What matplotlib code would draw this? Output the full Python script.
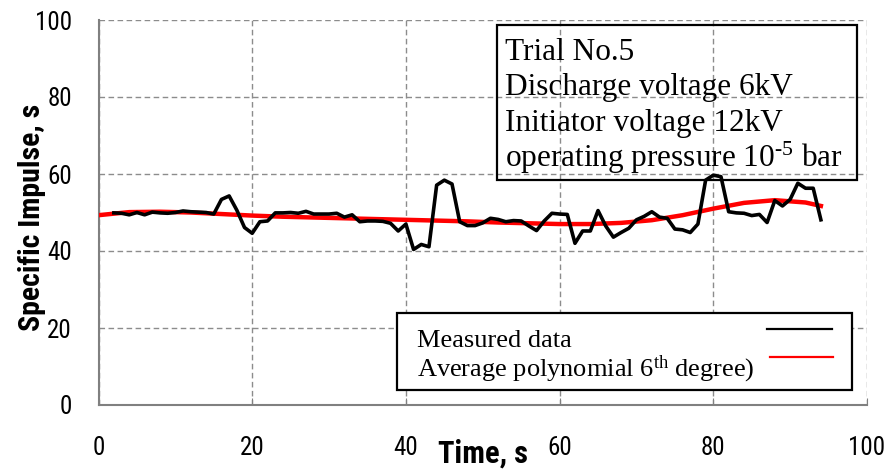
import matplotlib
matplotlib.use("Agg")
import matplotlib.pyplot as plt
from matplotlib import font_manager
from matplotlib.patches import Rectangle

# measured specific impulse, roughly one reading per second
time_s = [2, 3, 4, 5, 6, 7, 8, 9, 10, 11, 12, 13, 14, 15, 16, 17, 18, 19, 20,
          21, 22, 23, 24, 25, 26, 27, 28, 29, 30, 31, 32, 33, 34, 35, 36, 37,
          38, 39, 40, 41, 42, 43, 44, 45, 46, 47, 48, 49, 50, 51, 52, 53, 54,
          55, 56, 57, 58, 59, 60, 61, 62, 63, 64, 65, 66, 67, 68, 69, 70, 71,
          72, 73, 74, 75, 76, 77, 78, 79, 80, 81, 82, 83, 84, 85, 86, 87, 88,
          89, 90, 91, 92, 93, 94]
impulse = [49.9, 49.8, 49.4, 50.0, 49.4, 50.1, 49.9, 49.8, 50.0, 50.4, 50.2,
           50.1, 50.0, 49.6, 53.4, 54.3, 50.6, 46.1, 44.6, 47.6, 47.8, 49.9,
           49.9, 50.0, 49.8, 50.3, 49.6, 49.6, 49.6, 49.8, 48.8, 49.4, 47.6,
           47.8, 47.8, 47.7, 47.2, 45.2, 47.0, 40.4, 41.7, 41.1, 57.1, 58.4,
           57.4, 47.6, 46.6, 46.6, 47.3, 48.5, 48.2, 47.6, 47.9, 47.8, 46.5,
           45.3, 47.8, 49.8, 49.6, 49.5, 42.0, 45.2, 45.2, 50.5, 46.5, 43.6,
           44.8, 45.9, 48.1, 49.0, 50.2, 48.8, 48.5, 45.7, 45.5, 44.8, 47.0,
           58.4, 59.7, 59.3, 50.2, 49.9, 49.8, 49.2, 49.5, 47.4, 53.1, 51.7,
           53.4, 57.6, 56.3, 56.3, 48.1]

# 6th degree trend line
trend_t = [0, 4, 8, 12, 16, 20, 24, 28, 32, 36, 40, 44, 48, 52, 56, 60, 64,
           68, 72, 76, 80, 84, 88, 92, 94]
trend_v = [49.3, 50.1, 50.2, 50.0, 49.6, 49.2, 48.9, 48.7, 48.5, 48.3, 48.1,
           47.9, 47.7, 47.4, 47.2, 47.0, 47.0, 47.3, 48.0, 49.3, 51.0, 52.5,
           53.2, 52.6, 51.7]

x_ticks = [0, 20, 40, 60, 80, 100]
y_ticks = [0, 20, 40, 60, 80, 100]

info_lines = ["Trial No.5", "Discharge voltage 6kV", "Initiator voltage 12kV",
              "operating pressure 10$^{\\text{-}5}$ bar"]
legend_labels = ["Measured data", "Average polynomial 6$^{\\rm th}$ degree)"]

names = {f.name for f in font_manager.fontManager.ttflist}
narrow = "DejaVu Sans"
for n in ["Liberation Sans Narrow", "Roboto Condensed"]:
    if n in names:
        narrow = n
        break
serif = "Liberation Serif"

plt.rcParams["mathtext.fontset"] = "custom"
plt.rcParams["mathtext.rm"] = serif
plt.rcParams["mathtext.it"] = serif + ":italic"

fig = plt.figure(figsize=(8.92, 4.74), dpi=100)
ax = fig.add_axes([98.5 / 892, 1 - 405 / 474, 768.5 / 892, 385 / 474])

ax.plot(trend_t, trend_v, color="red", lw=3.2, zorder=3)
ax.plot(time_s, impulse, color="black", lw=2.6, zorder=4)

ax.set_xlim(0, 100)
ax.set_ylim(0, 100)
ax.set_xticks(x_ticks)
ax.set_yticks(y_ticks)
ax.grid(True, color="#8c8c8c", ls=(0, (4, 2.5)), lw=1.0)
ax.set_axisbelow(True)

for s in ["top", "right"]:
    ax.spines[s].set_visible(False)
for s in ["left", "bottom"]:
    ax.spines[s].set_color("#808080")
    ax.spines[s].set_linewidth(1.5)

ax.tick_params(axis="x", direction="in", length=5, color="#808080", pad=22)
ax.tick_params(axis="y", length=0, pad=19)
for lab in ax.get_xticklabels() + ax.get_yticklabels():
    lab.set_fontfamily(narrow)
    lab.set_fontsize(18)

ax.set_xlabel("Time, s", fontfamily=narrow, fontweight="bold", fontsize=22)
ax.set_ylabel("Specific Impulse, s", fontfamily=narrow, fontweight="bold",
              fontsize=21.5)
ax.xaxis.set_label_coords(0.5, -0.088)
ax.yaxis.set_label_coords(-0.068, 0.488)

# info box (no fill, grid shows through, data drawn over its edge)
ax.add_patch(Rectangle((0.5185, 0.584), 0.4685, 0.403, transform=ax.transAxes,
                       fill=False, edgecolor="black", lw=1.6, zorder=2.5,
                       clip_on=False))
baselines = [60, 95, 131.5, 166.5]
for line, b in zip(info_lines, baselines):
    ax.text(0.5289, (405 - b) / 385, line, transform=ax.transAxes,
            fontfamily=serif, fontsize=22.5, va="baseline", ha="left",
            zorder=2.6)

# legend drawn by hand so labels sit left and samples right
ax.add_patch(Rectangle((0.3884, 0.039), 0.5921, 0.200, transform=ax.transAxes,
                       facecolor="white", edgecolor="black", lw=1.6, zorder=5))
ax.text(0.4144, 0.1514, legend_labels[0], transform=ax.transAxes,
        fontfamily=serif, fontsize=19, va="baseline", zorder=6)
ax.text(0.4144, 0.0753, legend_labels[1], transform=ax.transAxes,
        fontfamily=serif, fontsize=19, va="baseline", zorder=6)
ax.plot([0.8695, 0.954], [0.1974, 0.1974], color="black", lw=1.6,
        transform=ax.transAxes, zorder=6)
ax.plot([0.8735, 0.956], [0.1239, 0.1239], color="red", lw=1.6,
        transform=ax.transAxes, zorder=6)

fig.savefig("out.png", dpi=100)
